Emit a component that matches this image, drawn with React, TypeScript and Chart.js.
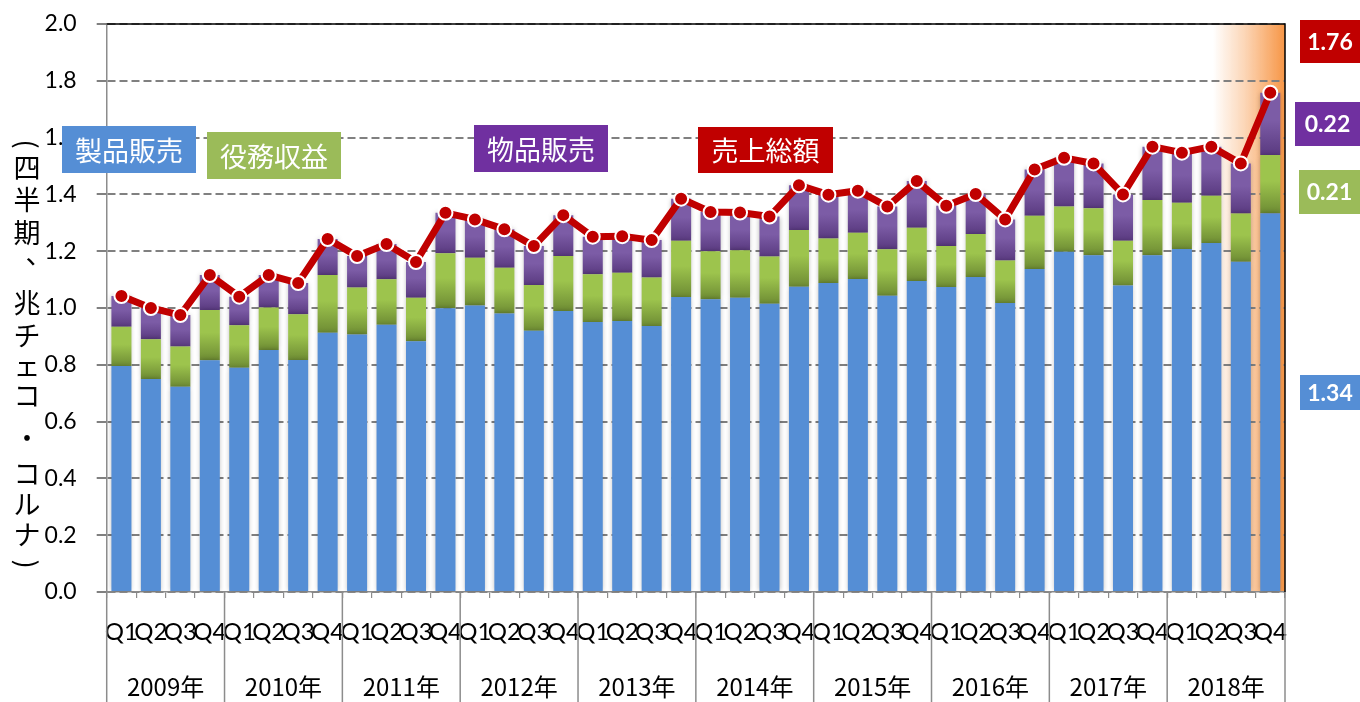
import React, { useEffect, useRef } from "react";
import { Chart, registerables } from "chart.js";

Chart.register(...registerables);

// ---------- data ----------
const quarters = ["Q1", "Q2", "Q3", "Q4"];
const years = ["2009年", "2010年", "2011年", "2012年", "2013年", "2014年", "2015年", "2016年", "2017年", "2018年"];
const categories = years.flatMap(() => quarters);

const seriesNames = ["製品販売", "役務収益", "物品販売", "売上総額"];

// 製品販売 (blue)
const productSales = [
  0.796, 0.750, 0.723, 0.816, 0.790, 0.852, 0.817, 0.913, 0.907, 0.941,
  0.883, 0.999, 1.009, 0.981, 0.920, 0.989, 0.951, 0.954, 0.937, 1.039,
  1.031, 1.036, 1.015, 1.075, 1.088, 1.102, 1.043, 1.095, 1.074, 1.109,
  1.018, 1.137, 1.198, 1.186, 1.079, 1.186, 1.208, 1.229, 1.163, 1.334,
];
// 役務収益 (green)
const serviceRevenue = [
  0.138, 0.140, 0.141, 0.177, 0.149, 0.150, 0.161, 0.203, 0.165, 0.160,
  0.153, 0.194, 0.168, 0.161, 0.161, 0.194, 0.168, 0.170, 0.170, 0.198,
  0.169, 0.167, 0.166, 0.200, 0.157, 0.163, 0.164, 0.188, 0.144, 0.152,
  0.149, 0.188, 0.159, 0.165, 0.158, 0.194, 0.163, 0.166, 0.170, 0.205,
];
// 物品販売 (purple)
const goodsSales = [
  0.108, 0.110, 0.111, 0.123, 0.101, 0.114, 0.110, 0.127, 0.111, 0.124,
  0.126, 0.142, 0.135, 0.135, 0.137, 0.144, 0.132, 0.129, 0.132, 0.148,
  0.138, 0.133, 0.141, 0.157, 0.154, 0.148, 0.150, 0.164, 0.142, 0.140,
  0.145, 0.163, 0.172, 0.158, 0.163, 0.188, 0.176, 0.173, 0.176, 0.219,
];
// 売上総額 (red line)
const totalSales = [
  1.042, 1.000, 0.975, 1.116, 1.040, 1.116, 1.088, 1.243, 1.183, 1.225,
  1.162, 1.335, 1.312, 1.277, 1.218, 1.327, 1.251, 1.253, 1.239, 1.385,
  1.338, 1.336, 1.322, 1.432, 1.399, 1.413, 1.357, 1.447, 1.360, 1.401,
  1.312, 1.488, 1.529, 1.509, 1.400, 1.568, 1.547, 1.568, 1.509, 1.758,
];

const yMin = 0;
const yMax = 2.0;
const yStep = 0.2;

const latestTotal = "1.76";
const latestGoods = "0.22";
const latestService = "0.21";
const latestProduct = "1.34";

const yTitleChars = ["(", "四", "半", "期", "、", "兆", "チ", "ェ", "コ", "・", "コ", "ル", "ナ", ")"];

// ---------- colours ----------
const BLUE = "#558ED5";
const GREEN = "#9BBB59";
const PURPLE = "#7030A0";
const RED = "#C00000";

const CJK = '"Noto Sans CJK JP", "Noto Sans", sans-serif';
const LATIN = 'Lato, "Open Sans", sans-serif';

function segmentGradient(bases: number[], values: number[], light: string, dark: string) {
  return (ctx: any) => {
    const chart = ctx.chart;
    const y = chart.scales && chart.scales.y;
    if (!chart.chartArea || !y || ctx.dataIndex === undefined) return light;
    const i = ctx.dataIndex;
    const b = bases[i];
    const t = b + values[i];
    const yTop = y.getPixelForValue(t);
    const yBot = y.getPixelForValue(b);
    if (!isFinite(yTop) || !isFinite(yBot) || yTop === yBot) return light;
    const g = chart.ctx.createLinearGradient(0, yTop, 0, yBot);
    g.addColorStop(0, light);
    g.addColorStop(0.45, light);
    g.addColorStop(1, dark);
    return g;
  };
}

const greenBases = productSales;
const purpleBases = productSales.map((v, i) => v + serviceRevenue[i]);

const barShadow = {
  id: "barShadow",
  beforeDatasetDraw(chart: any, args: any) {
    if (args.meta.type !== "bar") return;
    const ctx = chart.ctx;
    ctx.save();
    ctx.shadowColor = "rgba(0,0,0,0.28)";
    ctx.shadowBlur = 5;
    ctx.shadowOffsetX = 0;
    ctx.shadowOffsetY = 0;
  },
  afterDatasetDraw(chart: any, args: any) {
    if (args.meta.type !== "bar") return;
    chart.ctx.restore();
  },
};

const highlight = {
  id: "highlight",
  beforeDraw(chart: any) {
    const { ctx, chartArea } = chart;
    if (!chartArea) return;
    const step = (chartArea.right - chartArea.left) / categories.length;
    const x0 = chartArea.right - step * 2.45;
    const g = ctx.createLinearGradient(x0, 0, chartArea.right, 0);
    g.addColorStop(0, "rgba(247,150,70,0)");
    g.addColorStop(0.45, "rgba(247,150,70,0.4)");
    g.addColorStop(1, "rgba(247,150,70,1)");
    ctx.save();
    ctx.fillStyle = g;
    ctx.fillRect(x0, chartArea.top, chartArea.right - x0, chartArea.bottom - chartArea.top);
    ctx.restore();
  },
};

function box(ctx: CanvasRenderingContext2D, x: number, y: number, w: number, h: number, bg: string, text: string, font: string) {
  ctx.fillStyle = bg;
  ctx.fillRect(x, y, w, h);
  ctx.fillStyle = "#fff";
  ctx.font = font;
  ctx.textAlign = "center";
  ctx.textBaseline = "middle";
  ctx.fillText(text, x + w / 2, y + h / 2 + 1);
}

const overlay = {
  id: "overlay",
  afterDraw(chart: any) {
    const { ctx, chartArea } = chart;
    const { left, right, top, bottom } = chartArea;
    const H = chart.height;
    const step = (right - left) / categories.length;
    ctx.save();

    // top & right border
    ctx.strokeStyle = "#000";
    ctx.lineWidth = 1.5;
    ctx.beginPath();
    ctx.moveTo(left, top);
    ctx.lineTo(right, top);
    ctx.lineTo(right, bottom);
    ctx.stroke();

    // year separators & labels
    ctx.strokeStyle = "#8c8c8c";
    ctx.lineWidth = 1.5;
    for (let k = 0; k <= years.length; k++) {
      const xx = left + k * 4 * step;
      ctx.beginPath();
      ctx.moveTo(xx, bottom);
      ctx.lineTo(xx, H);
      ctx.stroke();
    }
    ctx.fillStyle = "#000";
    ctx.font = `24px ${CJK}`;
    ctx.textAlign = "center";
    ctx.textBaseline = "middle";
    years.forEach((yr, k) => {
      ctx.fillText(yr, left + (k * 4 + 2) * step, 687);
    });

    // vertical y-axis title (upright characters, parentheses rotated)
    const ys = [144, 168, 200, 233, 254, 303, 336, 366, 396, 438, 474, 505, 535, 564];
    ctx.font = `27px ${CJK}`;
    yTitleChars.forEach((c, i) => {
      if (c === "(" || c === ")") {
        ctx.save();
        ctx.translate(27, ys[i]);
        ctx.rotate(Math.PI / 2);
        ctx.fillText(c, 0, 0);
        ctx.restore();
        return;
      }
      const dx = c === "、" ? 12 : 0;
      ctx.fillText(c, 27 + dx, ys[i]);
    });

    // legend boxes
    const lf = `27px ${CJK}`;
    box(ctx, 62, 126, 134, 47, BLUE, seriesNames[0], lf);
    box(ctx, 207, 132, 134, 47, GREEN, seriesNames[1], lf);
    box(ctx, 474, 125, 134, 47, PURPLE, seriesNames[2], lf);
    box(ctx, 698, 127, 135, 46, RED, seriesNames[3], lf);

    // latest value boxes
    const vf = `bold 23px ${LATIN}`;
    box(ctx, 1300, 20, 60, 43, RED, latestTotal, vf);
    box(ctx, 1295, 102, 65, 44, PURPLE, latestGoods, vf);
    box(ctx, 1299, 170, 61, 44, GREEN, latestService, vf);
    box(ctx, 1300, 375, 60, 35, BLUE, latestProduct, vf);

    ctx.restore();
  },
};

export default function App() {
  const ref = useRef<HTMLCanvasElement | null>(null);

  useEffect(() => {
    if (!ref.current) return;
    const chart = new Chart(ref.current, {
      type: "bar",
      data: {
        labels: categories,
        datasets: [
          {
            type: "line",
            label: seriesNames[3],
            data: totalSales,
            borderColor: RED,
            borderWidth: 7,
            pointRadius: 7,
            pointBackgroundColor: RED,
            pointBorderColor: "#ffffff",
            pointBorderWidth: 2,
            tension: 0,
            order: 0,
            stack: "total",
          } as any,
          {
            label: seriesNames[0],
            data: productSales,
            backgroundColor: BLUE,
            stack: "s",
            order: 2,
          },
          {
            label: seriesNames[1],
            data: serviceRevenue,
            backgroundColor: segmentGradient(greenBases, serviceRevenue, "#9DC44D", "#6E8C34") as any,
            stack: "s",
            order: 2,
          },
          {
            label: seriesNames[2],
            data: goodsSales,
            backgroundColor: segmentGradient(purpleBases, goodsSales, "#7C5CA6", "#5A3A80") as any,
            stack: "s",
            order: 2,
          },
        ],
      },
      options: {
        animation: false,
        responsive: false,
        layout: { autoPadding: false, padding: { left: 0, right: 75, top: 24, bottom: 0 } } as any,
        datasets: { bar: { categoryPercentage: 1, barPercentage: 0.68 } },
        plugins: { legend: { display: false }, tooltip: { enabled: false } },
        scales: {
          x: {
            stacked: true,
            offset: true,
            grid: {
              offset: true,
              drawOnChartArea: false,
              drawTicks: true,
              tickLength: 6,
              color: "#8c8c8c",
              lineWidth: 1.2,
            },
            border: { display: true, color: "#8c8c8c", width: 1.5 },
            ticks: {
              autoSkip: false,
              maxRotation: 0,
              minRotation: 0,
              padding: 20,
              color: "#000",
              font: { family: LATIN, size: 24 },
            },
            afterFit: (s: any) => {
              s.height = 110;
              s.paddingLeft = 0;
              s.paddingRight = 0;
            },
          },
          y: {
            stacked: true,
            min: yMin,
            max: yMax,
            grid: {
              color: "#808080",
              lineWidth: 2,
              tickLength: 10,
              tickBorderDash: [],
            } as any,
            border: { display: true, color: "#8c8c8c", width: 1.5, dash: [8, 4] } as any,
            ticks: {
              stepSize: yStep,
              padding: 20,
              color: "#000",
              font: { family: LATIN, size: 23 },
              callback: (v: any) => Number(v).toFixed(1),
            },
            afterFit: (s: any) => {
              s.width = 106.7;
              s.paddingTop = 0;
              s.paddingBottom = 0;
            },
          },
        },
      },
      plugins: [highlight, barShadow, overlay],
    });
    return () => chart.destroy();
  }, []);

  return (
    <div style={{ position: "fixed", left: 0, top: 0, width: 1360, height: 702, background: "#fff" }}>
      <canvas ref={ref} width={1360} height={702} style={{ display: "block", width: 1360, height: 702 }} />
    </div>
  );
}
